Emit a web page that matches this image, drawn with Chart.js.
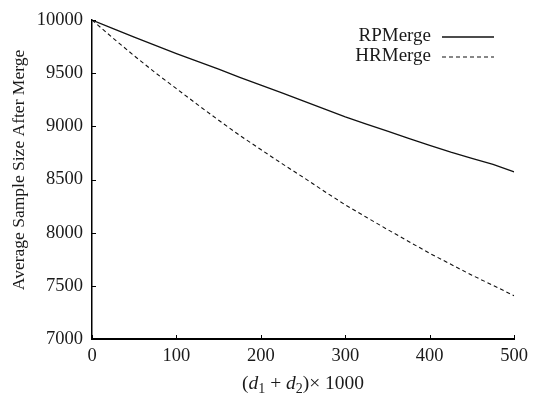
<!DOCTYPE html>
<html>
<head>
<meta charset="utf-8">
<script src="https://cdn.jsdelivr.net/npm/chart.js@4.4.1/dist/chart.umd.min.js"></script>
<style>
html,body{margin:0;padding:0;background:#fff;}
#wrap{width:534px;height:396px;position:relative;}
</style>
</head>
<body>
<div id="wrap"><canvas id="c" width="534" height="396"></canvas></div>
<script>
const xValues = [0,25,50,75,100,125,150,175,200,225,250,275,300,325,350,375,400,425,450,475,500];
const rpMerge = [10000,9920,9840,9762,9685,9612,9538,9462,9388,9315,9240,9165,9090,9022,8955,8888,8822,8758,8700,8642,8572];
const hrMerge = [10000,9830,9664,9505,9355,9205,9058,8915,8782,8650,8522,8390,8262,8145,8030,7918,7806,7703,7600,7505,7407];
const seriesNames = ['RPMerge','HRMerge'];
const xTitleParts = ['(', 'd', '1', ' + ', 'd', '2', ')\u00d7 1000'];
const yTitle = 'Average Sample Size After Merge';

const FONT = '"Liberation Serif", "Times New Roman", serif';
const INK = '#1a1a1a';

const customDraw = {
  id: 'customDraw',
  afterDraw(chart) {
    const ctx = chart.ctx;
    const xs = chart.scales.x, ys = chart.scales.y;
    const area = chart.chartArea;
    ctx.save();
    // inward tick marks
    ctx.strokeStyle = '#000';
    ctx.lineWidth = 1;
    ys.ticks.forEach(t => {
      const p = Math.round(ys.getPixelForValue(t.value)) + 0.5;
      ctx.beginPath(); ctx.moveTo(area.left, p); ctx.lineTo(area.left + 4, p); ctx.stroke();
    });
    xs.ticks.forEach(t => {
      const p = Math.round(xs.getPixelForValue(t.value)) + 0.5;
      ctx.beginPath(); ctx.moveTo(p, area.bottom); ctx.lineTo(p, area.bottom - 4); ctx.stroke();
    });
    // legend (text then line sample)
    ctx.font = '19px ' + FONT;
    ctx.fillStyle = INK;
    ctx.textAlign = 'right';
    ctx.textBaseline = 'middle';
    chart.data.datasets.forEach((ds, i) => {
      const y = 36 + i * 20;
      ctx.fillText(ds.label, 431, y);
      ctx.beginPath();
      ctx.setLineDash(ds.borderDash || []);
      ctx.strokeStyle = ds.borderColor;
      ctx.lineWidth = ds.borderWidth;
      ctx.moveTo(442, y + 1); ctx.lineTo(494, y + 1);
      ctx.stroke();
      ctx.setLineDash([]);
    });
    // x title with italic d and subscripts
    const baseY = 389;
    const pieces = [
      {t: xTitleParts[0], f: '19.5px ' + FONT, dy: 0},
      {t: xTitleParts[1], f: 'italic 19.5px ' + FONT, dy: 0},
      {t: xTitleParts[2], f: '14px ' + FONT, dy: 4},
      {t: xTitleParts[3], f: '19.5px ' + FONT, dy: 0},
      {t: xTitleParts[4], f: 'italic 19.5px ' + FONT, dy: 0},
      {t: xTitleParts[5], f: '14px ' + FONT, dy: 4},
      {t: xTitleParts[6], f: '19.5px ' + FONT, dy: 0}
    ];
    let total = 0;
    pieces.forEach(p => { ctx.font = p.f; p.w = ctx.measureText(p.t).width; total += p.w; });
    let x = (area.left + area.right) / 2 - total / 2;
    ctx.textAlign = 'left';
    ctx.textBaseline = 'alphabetic';
    ctx.fillStyle = INK;
    pieces.forEach(p => { ctx.font = p.f; ctx.fillText(p.t, x, baseY + p.dy); x += p.w; });
    // y title
    ctx.translate(24, 170);
    ctx.rotate(-Math.PI / 2);
    ctx.font = '17.5px ' + FONT;
    ctx.textAlign = 'center';
    ctx.textBaseline = 'alphabetic';
    ctx.fillText(yTitle, 0, 0);
    ctx.restore();
  }
};

new Chart(document.getElementById('c'), {
  type: 'line',
  data: {
    datasets: [
      {label: seriesNames[0], data: xValues.map((x, i) => ({x, y: rpMerge[i]})), borderColor: '#111', borderWidth: 1.3, pointRadius: 0, tension: 0, fill: false},
      {label: seriesNames[1], data: xValues.map((x, i) => ({x, y: hrMerge[i]})), borderColor: '#111', borderWidth: 1.1, borderDash: [4, 3], pointRadius: 0, tension: 0, fill: false}
    ]
  },
  options: {
    responsive: false,
    animation: false,
    devicePixelRatio: 1,
    layout: {padding: {top: 20, right: 17, left: 0, bottom: 0}},
    plugins: {legend: {display: false}, tooltip: {enabled: false}},
    scales: {
      x: {
        type: 'linear', min: 0, max: 500,
        afterFit: s => { s.height = 57; },
        grid: {display: false, drawTicks: false},
        border: {display: true, color: '#000', width: 2},
        ticks: {stepSize: 100, color: INK, padding: 6, font: {family: FONT, size: 18.5}, maxRotation: 0, callback: v => String(v)}
      },
      y: {
        min: 7000, max: 10000,
        afterFit: s => { s.width = 92; },
        grid: {display: false, drawTicks: false},
        border: {display: true, color: '#000', width: 1.5},
        ticks: {stepSize: 500, color: INK, padding: 9, font: {family: FONT, size: 18.5}, callback: v => String(v)}
      }
    }
  },
  plugins: [customDraw]
});
</script>
</body>
</html>
